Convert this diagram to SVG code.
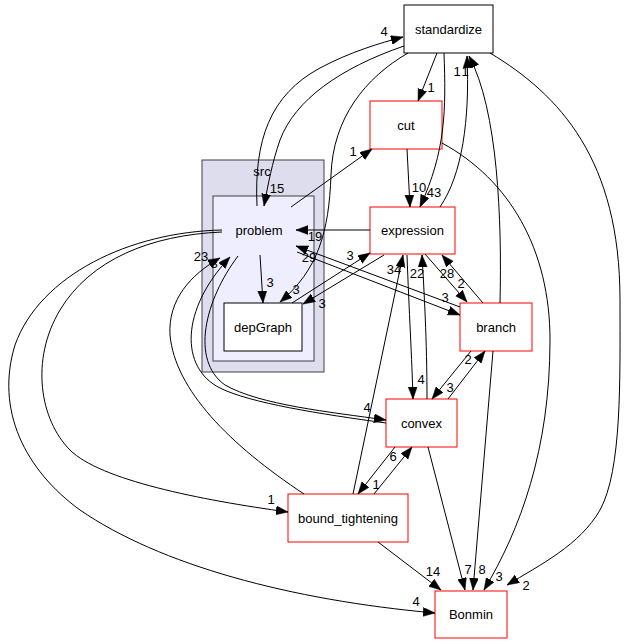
<svg xmlns="http://www.w3.org/2000/svg" width="626" height="644" viewBox="0 0 626 644">
<style>
text{font-family:"Liberation Sans",Arial,sans-serif;font-size:13px;fill:#000;text-anchor:middle}
.n{fill:#fff;stroke:#000;stroke-width:1}
.r{fill:#fff;stroke:#ff0000;stroke-width:1}
.e{fill:none;stroke:#000;stroke-width:1;marker-end:url(#ah)}
</style>
<defs>
<marker id="ah" markerUnits="userSpaceOnUse" markerWidth="13" markerHeight="10" refX="12" refY="4.5" orient="auto">
<path d="M0,0 L12,4.5 L0,9 z" fill="#000" stroke="#000" stroke-width="0.5"/>
</marker>
</defs>
<g id="cluster_src">
<rect x="202" y="160" width="122" height="212" fill="#ddddee" stroke="#404040"/>
<text x="262" y="176">src</text>
</g>
<g id="problem">
<rect x="213" y="196" width="101" height="165" fill="#eeeeff" stroke="#404040"/>
<text x="259" y="235">problem</text>
</g>
<g id="depGraph">
<rect x="224" y="303" width="78" height="48" class="n" stroke="#404040"/>
<text x="263" y="332">depGraph</text>
</g>
<g id="standardize">
<rect x="404" y="5" width="89" height="48" class="n"/>
<text x="448.5" y="34">standardize</text>
</g>
<g id="cut">
<rect x="370" y="101" width="72" height="48" class="r"/>
<text x="406" y="130">cut</text>
</g>
<g id="expression">
<rect x="370" y="207" width="85" height="47" class="r"/>
<text x="412.5" y="235">expression</text>
</g>
<g id="branch">
<rect x="460" y="303" width="72" height="48" class="r"/>
<text x="496" y="332">branch</text>
</g>
<g id="convex">
<rect x="386" y="399" width="71" height="48" class="r"/>
<text x="421.5" y="428">convex</text>
</g>
<g id="bound_tightening">
<rect x="288" y="494" width="120" height="48" class="r"/>
<text x="348" y="523">bound_tightening</text>
</g>
<g id="Bonmin">
<rect x="435" y="591" width="72" height="47" class="r"/>
<text x="471" y="619">Bonmin</text>
</g>
<g id="edges">
<path class="e" d="M257,206 C254,140 270,95 320,68 C350,52 380,43 403,37"/>
<text x="384" y="36">4</text>
<path class="e" d="M404,46 C340,68 295,100 280,140 C272,163 268,185 264,206"/>
<text x="277" y="193">15</text>
<path class="e" d="M408,53 C365,78 333,118 331,175 C329,232 318,270 280,302"/>
<text x="296" y="294">3</text>
<path class="e" d="M437,53 L418,101"/>
<text x="431" y="92">1</text>
<path class="e" d="M444,53 C446,110 446,150 420,207"/>
<text x="434" y="197">43</text>
<path class="e" d="M440,207 C462,175 470,120 467,56"/>
<path class="e" d="M500,303 C502,220 498,110 469,56"/>
<text x="457" y="76">1</text>
<text x="465" y="76">1</text>
<path class="e" d="M490,53 C560,95 620,160 620,300 C620,380 622,470 600,510 C580,545 540,565 507,585"/>
<text x="526" y="590">2</text>
<path class="e" d="M407,149 L410,207"/>
<text x="419" y="192">10</text>
<path class="e" d="M442,143 C510,180 550,250 550,340 C550,450 520,530 484,590"/>
<text x="499" y="581">3</text>
<path class="e" d="M370,230 L296,230"/>
<text x="315" y="241">19</text>
<path class="e" d="M260,255 L263,303"/>
<text x="270" y="287">3</text>
<path class="e" d="M292,303 L370,253"/>
<text x="350" y="260">3</text>
<path class="e" d="M384,255 L303,304"/>
<text x="322" y="308">3</text>
<path class="e" d="M297,252 L460,315"/>
<text x="445" y="302">3</text>
<path class="e" d="M460,307 L296,246"/>
<text x="309" y="262">29</text>
<path class="e" d="M425,254 L467,302"/>
<text x="447" y="278">28</text>
<path class="e" d="M483,303 L442,255"/>
<text x="461" y="288">2</text>
<path class="e" d="M353,494 L403,255"/>
<text x="394" y="274">34</text>
<path class="e" d="M427,399 C427,340 424,290 422,255"/>
<text x="417" y="278">22</text>
<path class="e" d="M407,255 C409,310 412,360 413,399"/>
<text x="421" y="384">4</text>
<path class="e" d="M471,351 L432,399"/>
<text x="450" y="392">3</text>
<path class="e" d="M448,399 L485,351"/>
<text x="468" y="364">2</text>
<path class="e" d="M238,256 C205,300 190,360 225,385 C260,405 330,412 386,420"/>
<text x="367" y="412">4</text>
<path class="e" d="M386,423 C320,414 250,403 220,388 C180,368 180,310 230,257"/>
<path class="e" d="M304,494 C230,445 175,390 170,335 C168,300 190,275 220,258"/>
<text x="201" y="261">23</text>
<text x="214" y="268">3</text>
<path class="e" d="M222,232 C150,235 90,260 60,310 C30,360 40,420 70,450 C100,480 200,500 288,512"/>
<text x="271" y="504">1</text>
<path class="e" d="M222,230 C130,232 40,275 15,345 C-5,410 25,470 80,510 C160,565 290,600 435,613"/>
<text x="416" y="606">4</text>
<path class="e" d="M374,494 L412,447"/>
<text x="393" y="461">6</text>
<path class="e" d="M395,447 L358,494"/>
<text x="376" y="489">1</text>
<path class="e" d="M428,447 L465,590"/>
<text x="468" y="574">7</text>
<path class="e" d="M378,542 L441,590"/>
<text x="433" y="576">14</text>
<path class="e" d="M493,351 L473,590"/>
<text x="482" y="574">8</text>
<path class="e" d="M291,207 L372,149"/>
<text x="353" y="156">1</text>
</g>
</svg>
